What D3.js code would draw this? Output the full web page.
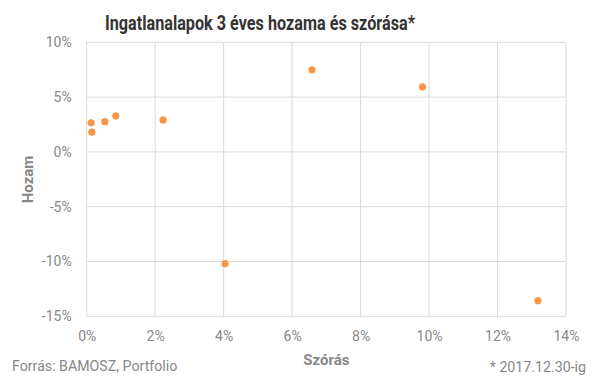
<!DOCTYPE html>
<html><head><meta charset="utf-8">
<script src="https://cdn.jsdelivr.net/npm/d3@7"></script>
<style>body{margin:0;background:#fff}svg{display:block}</style>
</head><body>
<script>
const szoras = [0.13, 0.15, 0.53, 0.85, 2.23, 4.04, 6.58, 9.81, 13.18];
const hozam  = [2.65, 1.8, 2.76, 3.28, 2.92, -10.2, 7.48, 5.93, -13.57];
const xTicks = [0, 2, 4, 6, 8, 10, 12, 14];
const yTicks = [-15, -10, -5, 0, 5, 10];
const title = "Ingatlanalapok 3 éves hozama és szórása*";
const xTitle = "Szórás", yTitle = "Hozam";
const source = "Forrás: BAMOSZ, Portfolio", note = "* 2017.12.30-ig";

const W = 607, H = 380;
const svg = d3.select("body").append("svg").attr("width", W).attr("height", H);
const x = d3.scaleLinear().domain([0, 14]).range([86.7, 566]);
const y = d3.scaleLinear().domain([-15, 10]).range([316.3, 42.3]);
const grid = "#d9d9d9", txt = "#878787";
const font = "Roboto, sans-serif";

svg.append("text").attr("x", 105).attr("y", 29.5)
  .attr("font-family", font).attr("font-weight", "bold").attr("font-size", 19.5)
  .attr("textLength", 310).attr("lengthAdjust", "spacingAndGlyphs")
  .attr("fill", "#333").text(title);

const g = svg.append("g");
g.selectAll("line.v").data(xTicks).join("line")
  .attr("x1", d => x(d)).attr("x2", d => x(d)).attr("y1", y(10)).attr("y2", y(-15))
  .attr("stroke", grid).attr("stroke-width", 1);
g.selectAll("line.h").data(yTicks).join("line")
  .attr("x1", x(0)).attr("x2", x(14)).attr("y1", d => y(d)).attr("y2", d => y(d))
  .attr("stroke", grid).attr("stroke-width", 1);

const xAxis = svg.append("g").attr("transform", `translate(0,${y(-15)})`)
  .call(d3.axisBottom(x).tickValues(xTicks).tickFormat(d => d + "%").tickSize(0).tickPadding(15));
xAxis.select(".domain").remove();
xAxis.selectAll("text").attr("font-family", font).attr("font-size", 14).attr("fill", txt);

const yAxis = svg.append("g").attr("transform", `translate(${x(0)},0)`)
  .call(d3.axisLeft(y).tickValues(yTicks).tickFormat(d => d + "%").tickSize(0).tickPadding(15));
yAxis.select(".domain").remove();
yAxis.selectAll("text").attr("font-family", font).attr("font-size", 14).attr("fill", txt);

svg.append("text").attr("x", x(7)).attr("y", 365).attr("text-anchor", "middle")
  .attr("font-family", font).attr("font-weight", "bold").attr("font-size", 15).attr("fill", txt).text(xTitle);
svg.append("text").attr("transform", `translate(33,179.5) rotate(-90)`).attr("text-anchor", "middle")
  .attr("font-family", font).attr("font-weight", "bold").attr("font-size", 15).attr("fill", txt).text(yTitle);

svg.selectAll("circle").data(szoras.map((s, i) => [s, hozam[i]])).join("circle")
  .attr("cx", d => x(d[0])).attr("cy", d => y(d[1])).attr("r", 3.6).attr("fill", "#f79646");

svg.append("text").attr("x", 12).attr("y", 371).attr("font-family", font).attr("font-size", 14.2)
  .attr("fill", txt).text(source);
svg.append("text").attr("x", 586).attr("y", 372).attr("text-anchor", "end").attr("font-family", font)
  .attr("font-size", 14.2).attr("fill", txt).text(note);
</script>
</body></html>
